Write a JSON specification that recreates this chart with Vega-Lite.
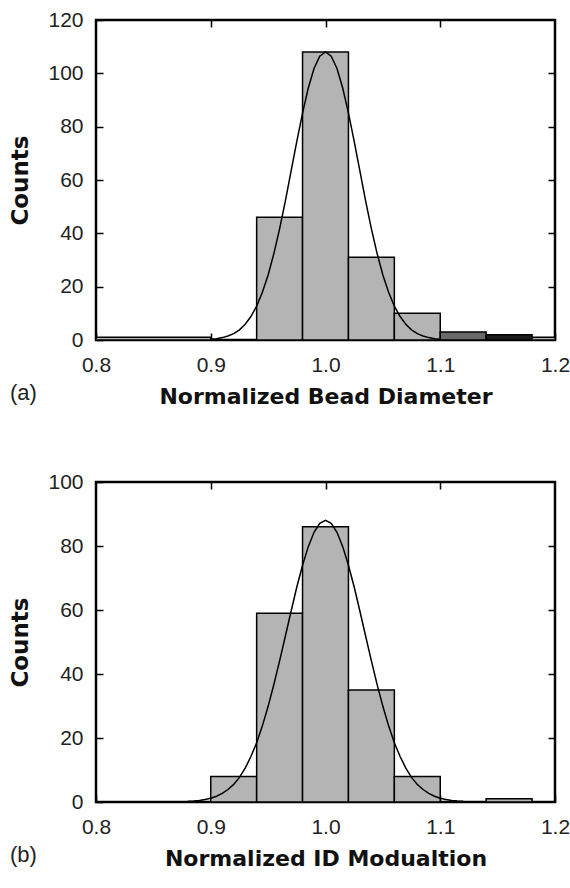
{
  "$schema": "https://vega.github.io/schema/vega-lite/v6.json",
  "background": "white",
  "padding": {"left": 8, "top": 7, "right": 0, "bottom": 5},
  "spacing": 60,
  "config": {
    "view": {"stroke": "black", "strokeWidth": 2.5},
    "axis": {
      "grid": false, "domain": false, "ticks": true, "tickColor": "black", "tickSize": -7, "tickWidth": 1.5,
      "labelFlush": false, "labelOverlap": false,
      "labelFont": "Liberation Sans, Arial, sans-serif", "labelFontSize": 21, "labelColor": "#222",
      "titleFont": "DejaVu Sans, sans-serif", "titleFontSize": 22, "titleFontWeight": "bold", "titleColor": "#111"
    },
    "title": {"font": "Liberation Sans, Arial, sans-serif", "fontSize": 22, "fontWeight": "normal", "color": "#222"}
  },
  "datasets": {
    "barsA": [
      {"x0": 0.80, "x1": 0.90, "count": 1},
      {"x0": 0.94, "x1": 0.98, "count": 46},
      {"x0": 0.98, "x1": 1.02, "count": 108},
      {"x0": 1.02, "x1": 1.06, "count": 31},
      {"x0": 1.06, "x1": 1.10, "count": 10},
      {"x0": 1.10, "x1": 1.14, "count": 3},
      {"x0": 1.14, "x1": 1.18, "count": 2},
      {"x0": 1.18, "x1": 1.20, "count": 1}
    ],
    "curveA": [
      {"x": 0.900, "y": 0.3}, {"x": 0.905, "y": 0.5}, {"x": 0.910, "y": 0.9}, {"x": 0.915, "y": 1.5},
      {"x": 0.920, "y": 2.4}, {"x": 0.925, "y": 3.8}, {"x": 0.930, "y": 5.9}, {"x": 0.935, "y": 8.8},
      {"x": 0.940, "y": 12.7}, {"x": 0.945, "y": 17.9}, {"x": 0.950, "y": 24.4}, {"x": 0.955, "y": 32.4},
      {"x": 0.960, "y": 41.7}, {"x": 0.965, "y": 52.1}, {"x": 0.970, "y": 63.3}, {"x": 0.975, "y": 74.5},
      {"x": 0.980, "y": 85.1}, {"x": 0.985, "y": 94.5}, {"x": 0.990, "y": 101.8}, {"x": 0.995, "y": 106.4},
      {"x": 1.000, "y": 108.0},
      {"x": 1.005, "y": 106.4}, {"x": 1.010, "y": 101.8}, {"x": 1.015, "y": 94.5}, {"x": 1.020, "y": 85.1},
      {"x": 1.025, "y": 74.5}, {"x": 1.030, "y": 63.3}, {"x": 1.035, "y": 52.1}, {"x": 1.040, "y": 41.7},
      {"x": 1.045, "y": 32.4}, {"x": 1.050, "y": 24.4}, {"x": 1.055, "y": 17.9}, {"x": 1.060, "y": 12.7},
      {"x": 1.065, "y": 8.8}, {"x": 1.070, "y": 5.9}, {"x": 1.075, "y": 3.8}, {"x": 1.080, "y": 2.4},
      {"x": 1.085, "y": 1.5}, {"x": 1.090, "y": 0.9}, {"x": 1.095, "y": 0.5}, {"x": 1.100, "y": 0.3}
    ],
    "barsB": [
      {"x0": 0.90, "x1": 0.94, "count": 8},
      {"x0": 0.94, "x1": 0.98, "count": 59},
      {"x0": 0.98, "x1": 1.02, "count": 86},
      {"x0": 1.02, "x1": 1.06, "count": 35},
      {"x0": 1.06, "x1": 1.10, "count": 8},
      {"x0": 1.14, "x1": 1.18, "count": 1}
    ],
    "curveB": [
      {"x": 0.880, "y": 0.2}, {"x": 0.885, "y": 0.3}, {"x": 0.890, "y": 0.5}, {"x": 0.895, "y": 0.8},
      {"x": 0.900, "y": 1.2}, {"x": 0.905, "y": 1.8}, {"x": 0.910, "y": 2.7}, {"x": 0.915, "y": 3.9},
      {"x": 0.920, "y": 5.5}, {"x": 0.925, "y": 7.7}, {"x": 0.930, "y": 10.6}, {"x": 0.935, "y": 14.2},
      {"x": 0.940, "y": 18.5}, {"x": 0.945, "y": 23.8}, {"x": 0.950, "y": 29.9}, {"x": 0.955, "y": 36.7},
      {"x": 0.960, "y": 44.1}, {"x": 0.965, "y": 51.8}, {"x": 0.970, "y": 59.6}, {"x": 0.975, "y": 67.2},
      {"x": 0.980, "y": 74.0}, {"x": 0.985, "y": 79.8}, {"x": 0.990, "y": 84.3}, {"x": 0.995, "y": 87.1},
      {"x": 1.000, "y": 88.0},
      {"x": 1.005, "y": 87.1}, {"x": 1.010, "y": 84.3}, {"x": 1.015, "y": 79.8}, {"x": 1.020, "y": 74.0},
      {"x": 1.025, "y": 67.2}, {"x": 1.030, "y": 59.6}, {"x": 1.035, "y": 51.8}, {"x": 1.040, "y": 44.1},
      {"x": 1.045, "y": 36.7}, {"x": 1.050, "y": 29.9}, {"x": 1.055, "y": 23.8}, {"x": 1.060, "y": 18.5},
      {"x": 1.065, "y": 14.2}, {"x": 1.070, "y": 10.6}, {"x": 1.075, "y": 7.7}, {"x": 1.080, "y": 5.5},
      {"x": 1.085, "y": 3.9}, {"x": 1.090, "y": 2.7}, {"x": 1.095, "y": 1.8}, {"x": 1.100, "y": 1.2},
      {"x": 1.105, "y": 0.8}, {"x": 1.110, "y": 0.5}, {"x": 1.115, "y": 0.3}, {"x": 1.120, "y": 0.2}
    ]
  },
  "vconcat": [
    {
      "width": 459, "height": 320,
      "title": {"text": "(a)", "orient": "bottom", "anchor": "start", "frame": "bounds", "offset": -24},
      "resolve": {"axis": {"x": "independent", "y": "independent"}},
      "layer": [
        {
          "data": {"name": "barsA"},
          "mark": {"type": "rect", "stroke": "black", "strokeWidth": 1.5, "clip": true},
          "encoding": {
            "x": {"field": "x0", "type": "quantitative", "scale": {"domain": [0.8, 1.2], "nice": false},
                  "axis": {"orient": "bottom", "values": [0.8, 0.9, 1.0, 1.1, 1.2], "format": ".1f", "title": "Normalized Bead Diameter", "labelPadding": 21, "titlePadding": 11}},
            "x2": {"field": "x1"},
            "y": {"field": "count", "type": "quantitative", "scale": {"domain": [0, 120], "nice": false},
                  "axis": {"orient": "left", "values": [0, 20, 40, 60, 80, 100, 120], "title": "Counts", "titleFontSize": 23, "labelPadding": 20, "titlePadding": 15}},
            "y2": {"datum": 0},
            "fill": {"condition": [
              {"test": "datum.x0 > 1.09 && datum.x0 < 1.13", "value": "#6a6a6a"},
              {"test": "datum.x0 > 1.13 && datum.x0 < 1.17", "value": "#1a1a1a"}
            ], "value": "#b4b4b4"}
          }
        },
        {
          "data": {"name": "curveA"},
          "mark": {"type": "line", "color": "black", "strokeWidth": 1.5, "clip": true},
          "encoding": {
            "x": {"field": "x", "type": "quantitative", "axis": {"orient": "top", "values": [0.9, 1.0, 1.1], "labels": false, "title": null}},
            "y": {"field": "y", "type": "quantitative", "axis": {"orient": "right", "values": [20, 40, 60, 80, 100], "labels": false, "title": null}}
          }
        }
      ]
    },
    {
      "width": 459, "height": 320,
      "title": {"text": "(b)", "orient": "bottom", "anchor": "start", "frame": "bounds", "offset": -24},
      "resolve": {"axis": {"x": "independent", "y": "independent"}},
      "layer": [
        {
          "data": {"name": "barsB"},
          "mark": {"type": "rect", "fill": "#b4b4b4", "stroke": "black", "strokeWidth": 1.5, "clip": true},
          "encoding": {
            "x": {"field": "x0", "type": "quantitative", "scale": {"domain": [0.8, 1.2], "nice": false},
                  "axis": {"orient": "bottom", "values": [0.8, 0.9, 1.0, 1.1, 1.2], "format": ".1f", "title": "Normalized ID Modualtion", "labelPadding": 21, "titlePadding": 11}},
            "x2": {"field": "x1"},
            "y": {"field": "count", "type": "quantitative", "scale": {"domain": [0, 100], "nice": false},
                  "axis": {"orient": "left", "values": [0, 20, 40, 60, 80, 100], "title": "Counts", "titleFontSize": 23, "labelPadding": 20, "titlePadding": 15}},
            "y2": {"datum": 0}
          }
        },
        {
          "data": {"name": "curveB"},
          "mark": {"type": "line", "color": "black", "strokeWidth": 1.5, "clip": true},
          "encoding": {
            "x": {"field": "x", "type": "quantitative", "axis": {"orient": "top", "values": [0.9, 1.0, 1.1], "labels": false, "title": null}},
            "y": {"field": "y", "type": "quantitative", "axis": {"orient": "right", "values": [20, 40, 60, 80], "labels": false, "title": null}}
          }
        }
      ]
    }
  ]
}
